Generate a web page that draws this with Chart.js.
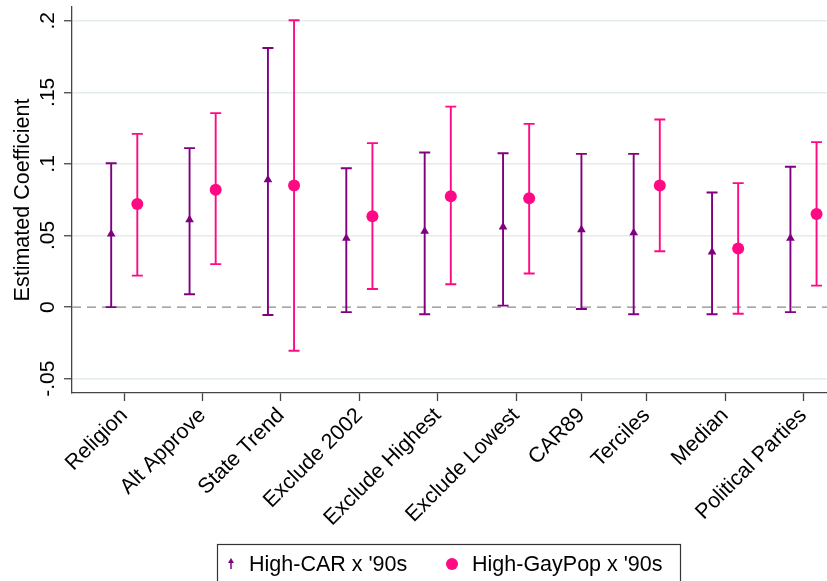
<!DOCTYPE html>
<html lang="en">
<head>
    <meta charset="UTF-8">
    <title>Estimated Coefficient</title>
    <script src="https://cdn.jsdelivr.net/npm/chart.js"></script>
    <style>
        html, body { margin: 0; padding: 0; background: #fff; }
        #wrap { width: 827px; height: 581px; position: relative; }
    </style>
</head>
<body>
<div id="wrap"><canvas id="myChart"></canvas></div>
<script>
// data
const categories = ['Religion', 'Alt Approve', 'State Trend', 'Exclude 2002', 'Exclude Highest',
                    'Exclude Lowest', 'CAR89', 'Terciles', 'Median', 'Political Parties'];
const seriesNames = ["High-CAR x '90s", "High-GayPop x '90s"];

const carCoef = [0.051, 0.061, 0.089, 0.048, 0.053, 0.056, 0.054, 0.052, 0.0385, 0.048];
const carLow  = [0.000, 0.009, -0.0055, -0.0035, -0.005, 0.001, -0.0013, -0.005, -0.005, -0.0035];
const carHigh = [0.1005, 0.111, 0.181, 0.097, 0.108, 0.1075, 0.107, 0.107, 0.080, 0.098];

const gayCoef = [0.072, 0.082, 0.085, 0.0635, 0.0775, 0.076, null, 0.085, 0.041, 0.065];
const gayLow  = [0.022, 0.030, -0.0305, 0.0126, 0.016, 0.0235, null, 0.039, -0.0047, 0.015];
const gayHigh = [0.121, 0.1355, 0.2003, 0.1145, 0.140, 0.128, null, 0.131, 0.0866, 0.1152];

const yTicks = [-0.05, 0, 0.05, 0.1, 0.15, 0.2];
const yTickLabels = ['-.05', '0', '.05', '.1', '.15', '.2'];
const yTitle = 'Estimated Coefficient';

const FONT = "'Liberation Sans', Arial, Helvetica, sans-serif";
const PURPLE = '#800080';
const PINK = '#ff0a84';

// slot positions: each coefficient takes one slot, one empty slot between groups
const series = [
    { coef: carCoef, low: carLow, high: carHigh },
    { coef: gayCoef, low: gayLow, high: gayHigh }
];
const slotX = series.map(() => []);
const groupCenters = [];
let pos = 0;
categories.forEach((c, i) => {
    const start = pos;
    series.forEach((s, k) => {
        if (s.coef[i] !== null) { slotX[k][i] = pos; pos++; } else { slotX[k][i] = null; }
    });
    groupCenters.push((start + pos - 1) / 2);
    pos += 1;
});

function makeData(k) {
    const out = [];
    categories.forEach((c, i) => {
        if (series[k].coef[i] !== null) {
            out.push({ x: slotX[k][i], y: series[k].coef[i], lo: series[k].low[i], hi: series[k].high[i] });
        }
    });
    return out;
}

// error bars + dashed zero line
const errorBars = {
    id: 'errorBars',
    beforeDatasetsDraw(chart) {
        const ctx = chart.ctx, xs = chart.scales.x, ys = chart.scales.y, area = chart.chartArea;
        ctx.save();
        // zero reference line
        ctx.strokeStyle = '#8a8a8a';
        ctx.lineWidth = 1.2;
        ctx.setLineDash([9, 6]);
        const y0 = ys.getPixelForValue(0);
        ctx.beginPath();
        ctx.moveTo(area.left, y0);
        ctx.lineTo(area.right, y0);
        ctx.stroke();
        ctx.setLineDash([]);

        chart.data.datasets.forEach(ds => {
            ctx.strokeStyle = ds.borderColor;
            ctx.lineWidth = 1.9;
            ds.data.forEach(p => {
                const px = xs.getPixelForValue(p.x);
                const pl = ys.getPixelForValue(p.lo);
                const ph = ys.getPixelForValue(p.hi);
                ctx.beginPath();
                ctx.moveTo(px, pl); ctx.lineTo(px, ph);
                ctx.moveTo(px - 5.5, pl); ctx.lineTo(px + 5.5, pl);
                ctx.moveTo(px - 5.5, ph); ctx.lineTo(px + 5.5, ph);
                ctx.stroke();
            });
        });
        ctx.restore();
    }
};

// rotated y tick labels, y title, boxed legend
const decorations = {
    id: 'decorations',
    afterDraw(chart) {
        const ctx = chart.ctx, ys = chart.scales.y, area = chart.chartArea;
        ctx.save();
        ctx.fillStyle = '#000';
        ctx.font = '21px ' + FONT;
        ctx.textAlign = 'center';
        ctx.textBaseline = 'alphabetic';
        yTicks.forEach((v, i) => {
            ctx.save();
            ctx.translate(54, ys.getPixelForValue(v));
            ctx.rotate(-Math.PI / 2);
            ctx.fillText(yTickLabels[i], 0, 0);
            ctx.restore();
        });
        ctx.save();
        ctx.font = '21.5px ' + FONT;
        ctx.translate(29, (area.top + area.bottom) / 2);
        ctx.rotate(-Math.PI / 2);
        ctx.fillText(yTitle, 0, 0);
        ctx.restore();

        // legend
        ctx.font = '21.5px ' + FONT;
        ctx.strokeStyle = '#333';
        ctx.lineWidth = 1.2;
        ctx.strokeRect(217.5, 544.5, 463, 60);
        const ly = 564;
        ctx.textAlign = 'left';
        ctx.textBaseline = 'middle';
        // purple: small triangle with ci stub
        ctx.fillStyle = PURPLE;
        ctx.strokeStyle = PURPLE;
        ctx.lineWidth = 1.5;
        ctx.beginPath();
        ctx.moveTo(231, ly - 1); ctx.lineTo(231, ly + 5);
        ctx.stroke();
        ctx.beginPath();
        ctx.moveTo(231, ly - 6); ctx.lineTo(234, ly - 1); ctx.lineTo(228, ly - 1);
        ctx.closePath();
        ctx.fill();
        ctx.fillStyle = '#000';
        ctx.fillText(seriesNames[0], 249, ly + 1);
        // pink circle
        ctx.fillStyle = PINK;
        ctx.beginPath();
        ctx.arc(452, ly, 6, 0, Math.PI * 2);
        ctx.fill();
        ctx.fillStyle = '#000';
        ctx.fillText(seriesNames[1], 472, ly + 1);
        ctx.restore();
    }
};

const ctx = document.getElementById('myChart').getContext('2d');
new Chart(ctx, {
    type: 'scatter',
    data: {
        datasets: [
            {
                label: seriesNames[0],
                data: makeData(0),
                borderColor: PURPLE,
                backgroundColor: PURPLE,
                pointStyle: 'triangle',
                pointRadius: 5,
                borderWidth: 0
            },
            {
                label: seriesNames[1],
                data: makeData(1),
                borderColor: PINK,
                backgroundColor: PINK,
                pointStyle: 'circle',
                pointRadius: 6,
                borderWidth: 0
            }
        ]
    },
    options: {
        responsive: true,
        maintainAspectRatio: false,
        animation: false,
        layout: { autoPadding: false, padding: { top: 7, left: 0, right: 0, bottom: 0 } },
        plugins: { legend: { display: false }, tooltip: { enabled: false } },
        scales: {
            x: {
                type: 'linear',
                min: -1.5,
                max: 27.4,
                afterBuildTicks: s => { s.ticks = groupCenters.map(v => ({ value: v })); },
                afterFit: s => { s.height = 188; },
                grid: { drawOnChartArea: false, drawTicks: true, tickLength: 8, tickColor: '#444', tickWidth: 1.3 },
                border: { color: '#444', width: 1.3 },
                ticks: {
                    autoSkip: false,
                    minRotation: 45,
                    maxRotation: 45,
                    padding: 2,
                    color: '#000',
                    font: { family: FONT, size: 21.5 },
                    callback: (v, i) => categories[i]
                }
            },
            y: {
                min: -0.06,
                max: 0.2096,
                afterBuildTicks: s => { s.ticks = yTicks.map(v => ({ value: v })); },
                afterFit: s => { s.width = 72; },
                grid: {
                    color: c => (c.tick && c.tick.value === 0) ? 'rgba(0,0,0,0)' : '#e3ebee',
                    lineWidth: 1.5,
                    tickColor: '#444',
                    tickLength: 8,
                    tickWidth: 1.3
                },
                border: { color: '#444', width: 1.3 },
                ticks: { display: false }
            }
        }
    },
    plugins: [errorBars, decorations]
});
</script>
</body>
</html>
